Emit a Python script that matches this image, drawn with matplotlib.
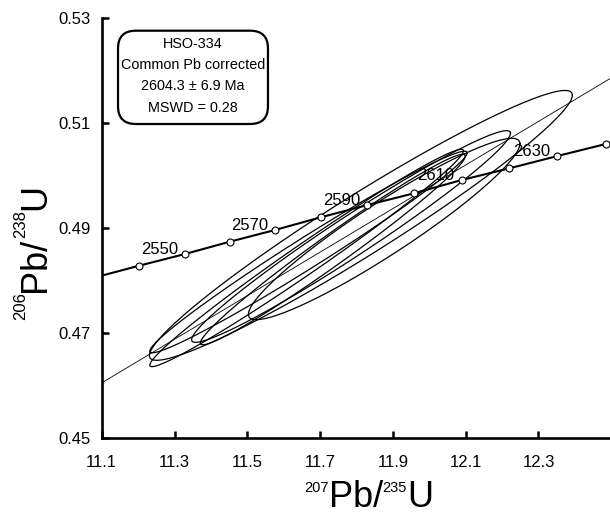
"""
Concordia diagram for zircon sample HSO-334 (common Pb corrected).
"""
import matplotlib
matplotlib.use("Agg")
import matplotlib.pyplot as plt
import numpy as np
from matplotlib.patches import FancyBboxPatch
from matplotlib.transforms import IdentityTransform

plt.rcParams['font.family'] = ['Liberation Sans', 'DejaVu Sans']

# concordia age marks (Ma) with their isotope ratios
conc_age = [2530, 2540, 2550, 2560, 2570, 2580, 2590, 2600, 2610, 2620, 2630, 2640, 2650]
conc_x207 = [11.078, 11.203, 11.329, 11.452, 11.576, 11.702, 11.830,
             11.958, 12.089, 12.220, 12.352, 12.485, 12.617]
conc_y206 = [0.48052, 0.48282, 0.48505, 0.48739, 0.48962, 0.49204, 0.49438,
             0.49661, 0.49914, 0.50137, 0.50371, 0.50600, 0.50830]
label_ages = [2550, 2570, 2590, 2610, 2630]

# spot analyses: 207Pb/235U, 206Pb/238U, 2 sigma errors and error correlation
x207 = [11.812, 11.785, 11.876, 11.668, 11.663, 11.735]
x207_err = [0.581, 0.438, 0.373, 0.436, 0.431, 0.364]
y206 = [0.49050, 0.48838, 0.48981, 0.48543, 0.48429, 0.48590]
y206_err = [0.02570, 0.02016, 0.01727, 0.01920, 0.02070, 0.01815]
rho = [0.965, 0.975, 0.941, 0.984, 0.986, 0.981]

# regression line (upper intercept 2604 Ma)
discordia_x = [11.1, 12.5]
discordia_y = [0.4605, 0.5186]

info_lines = ["HSO-334", "Common Pb corrected", "2604.3 \u00b1 6.9 Ma", "MSWD = 0.28"]

W, H = 610, 515


def error_ellipse(cx, ex, cy, ey, r, n=240):
    t = np.linspace(0, 2 * np.pi, n)
    xs = cx + ex * np.cos(t)
    ys = cy + ey * (r * np.cos(t) + np.sqrt(1 - r * r) * np.sin(t))
    return xs, ys


def mixed_label(fig, x, y, parts, vertical=False):
    """Draw text pieces of different sizes one after another, in pixels."""
    renderer = fig.canvas.get_renderer()
    pos = 0.0
    for text, size, rise in parts:
        probe = fig.text(0, 0, text, fontsize=size, transform=IdentityTransform())
        width = probe.get_window_extent(renderer).width
        probe.remove()
        if vertical:
            fig.text(x - rise, y + pos, text, fontsize=size, rotation=90,
                     rotation_mode='anchor', ha='left', va='baseline',
                     transform=IdentityTransform())
        else:
            fig.text(x + pos, y + rise, text, fontsize=size,
                     ha='left', va='baseline', transform=IdentityTransform())
        pos += width


def main():
    fig = plt.figure(figsize=(W / 100, H / 100), dpi=100)
    ax = fig.add_axes([101.7 / W, 77 / H, 508.3 / W, 420 / H])

    for i in range(len(x207)):
        xs, ys = error_ellipse(x207[i], x207_err[i], y206[i], y206_err[i], rho[i])
        ax.plot(xs, ys, color='black', lw=0.9, zorder=2)

    ax.plot(discordia_x, discordia_y, color='black', lw=0.6, zorder=1)

    ax.plot(conc_x207, conc_y206, color='black', lw=1.5, zorder=3)
    ax.plot(conc_x207, conc_y206, 'o', ms=5, mfc='white', mec='black',
            mew=0.8, zorder=4)
    for age in label_ages:
        i = conc_age.index(age)
        ax.annotate(str(age), (conc_x207[i], conc_y206[i]),
                    xytext=(-7, 0), textcoords='offset pixels',
                    ha='right', va='baseline', fontsize=12, zorder=5)

    ax.set_xlim(11.1, 11.1 + 508.3 / 364)
    ax.set_ylim(0.45, 0.53)
    ax.set_xticks(np.arange(11.1, 12.31, 0.2))
    ax.set_yticks(np.arange(0.45, 0.531, 0.02))
    ax.xaxis.set_major_formatter(plt.FormatStrFormatter('%.1f'))
    ax.yaxis.set_major_formatter(plt.FormatStrFormatter('%.2f'))
    ax.tick_params(direction='in', length=5, width=1.8, labelsize=12)
    ax.tick_params(axis='x', pad=12)
    ax.tick_params(axis='y', pad=8)
    for side in ['top', 'right']:
        ax.spines[side].set_visible(False)
    for side in ['left', 'bottom']:
        ax.spines[side].set_linewidth(1.9)

    # info box in the upper left corner
    box = FancyBboxPatch((0.0321, 0.7476), 0.295, 0.2222,
                         boxstyle='round,pad=0,rounding_size=0.035',
                         mutation_aspect=508.3 / 420, transform=ax.transAxes,
                         fc='white', ec='black', lw=1.6, zorder=6)
    ax.add_patch(box)
    for line, yb in zip(info_lines, [0.9286, 0.8779, 0.8274, 0.7769]):
        ax.text(0.1796, yb, line, transform=ax.transAxes, ha='center',
                va='baseline', fontsize=10.4, zorder=7)

    mixed_label(fig, 304, 8, [("207", 10.5, 15), ("Pb/", 26, 0),
                              ("235", 10.5, 15), ("U", 26, 0)])
    mixed_label(fig, 45, 195, [("206", 12, 20), ("Pb/", 26, 0),
                               ("238", 12, 20), ("U", 26, 0)], vertical=True)

    fig.savefig("out.png", dpi=100)


if __name__ == "__main__":
    main()
